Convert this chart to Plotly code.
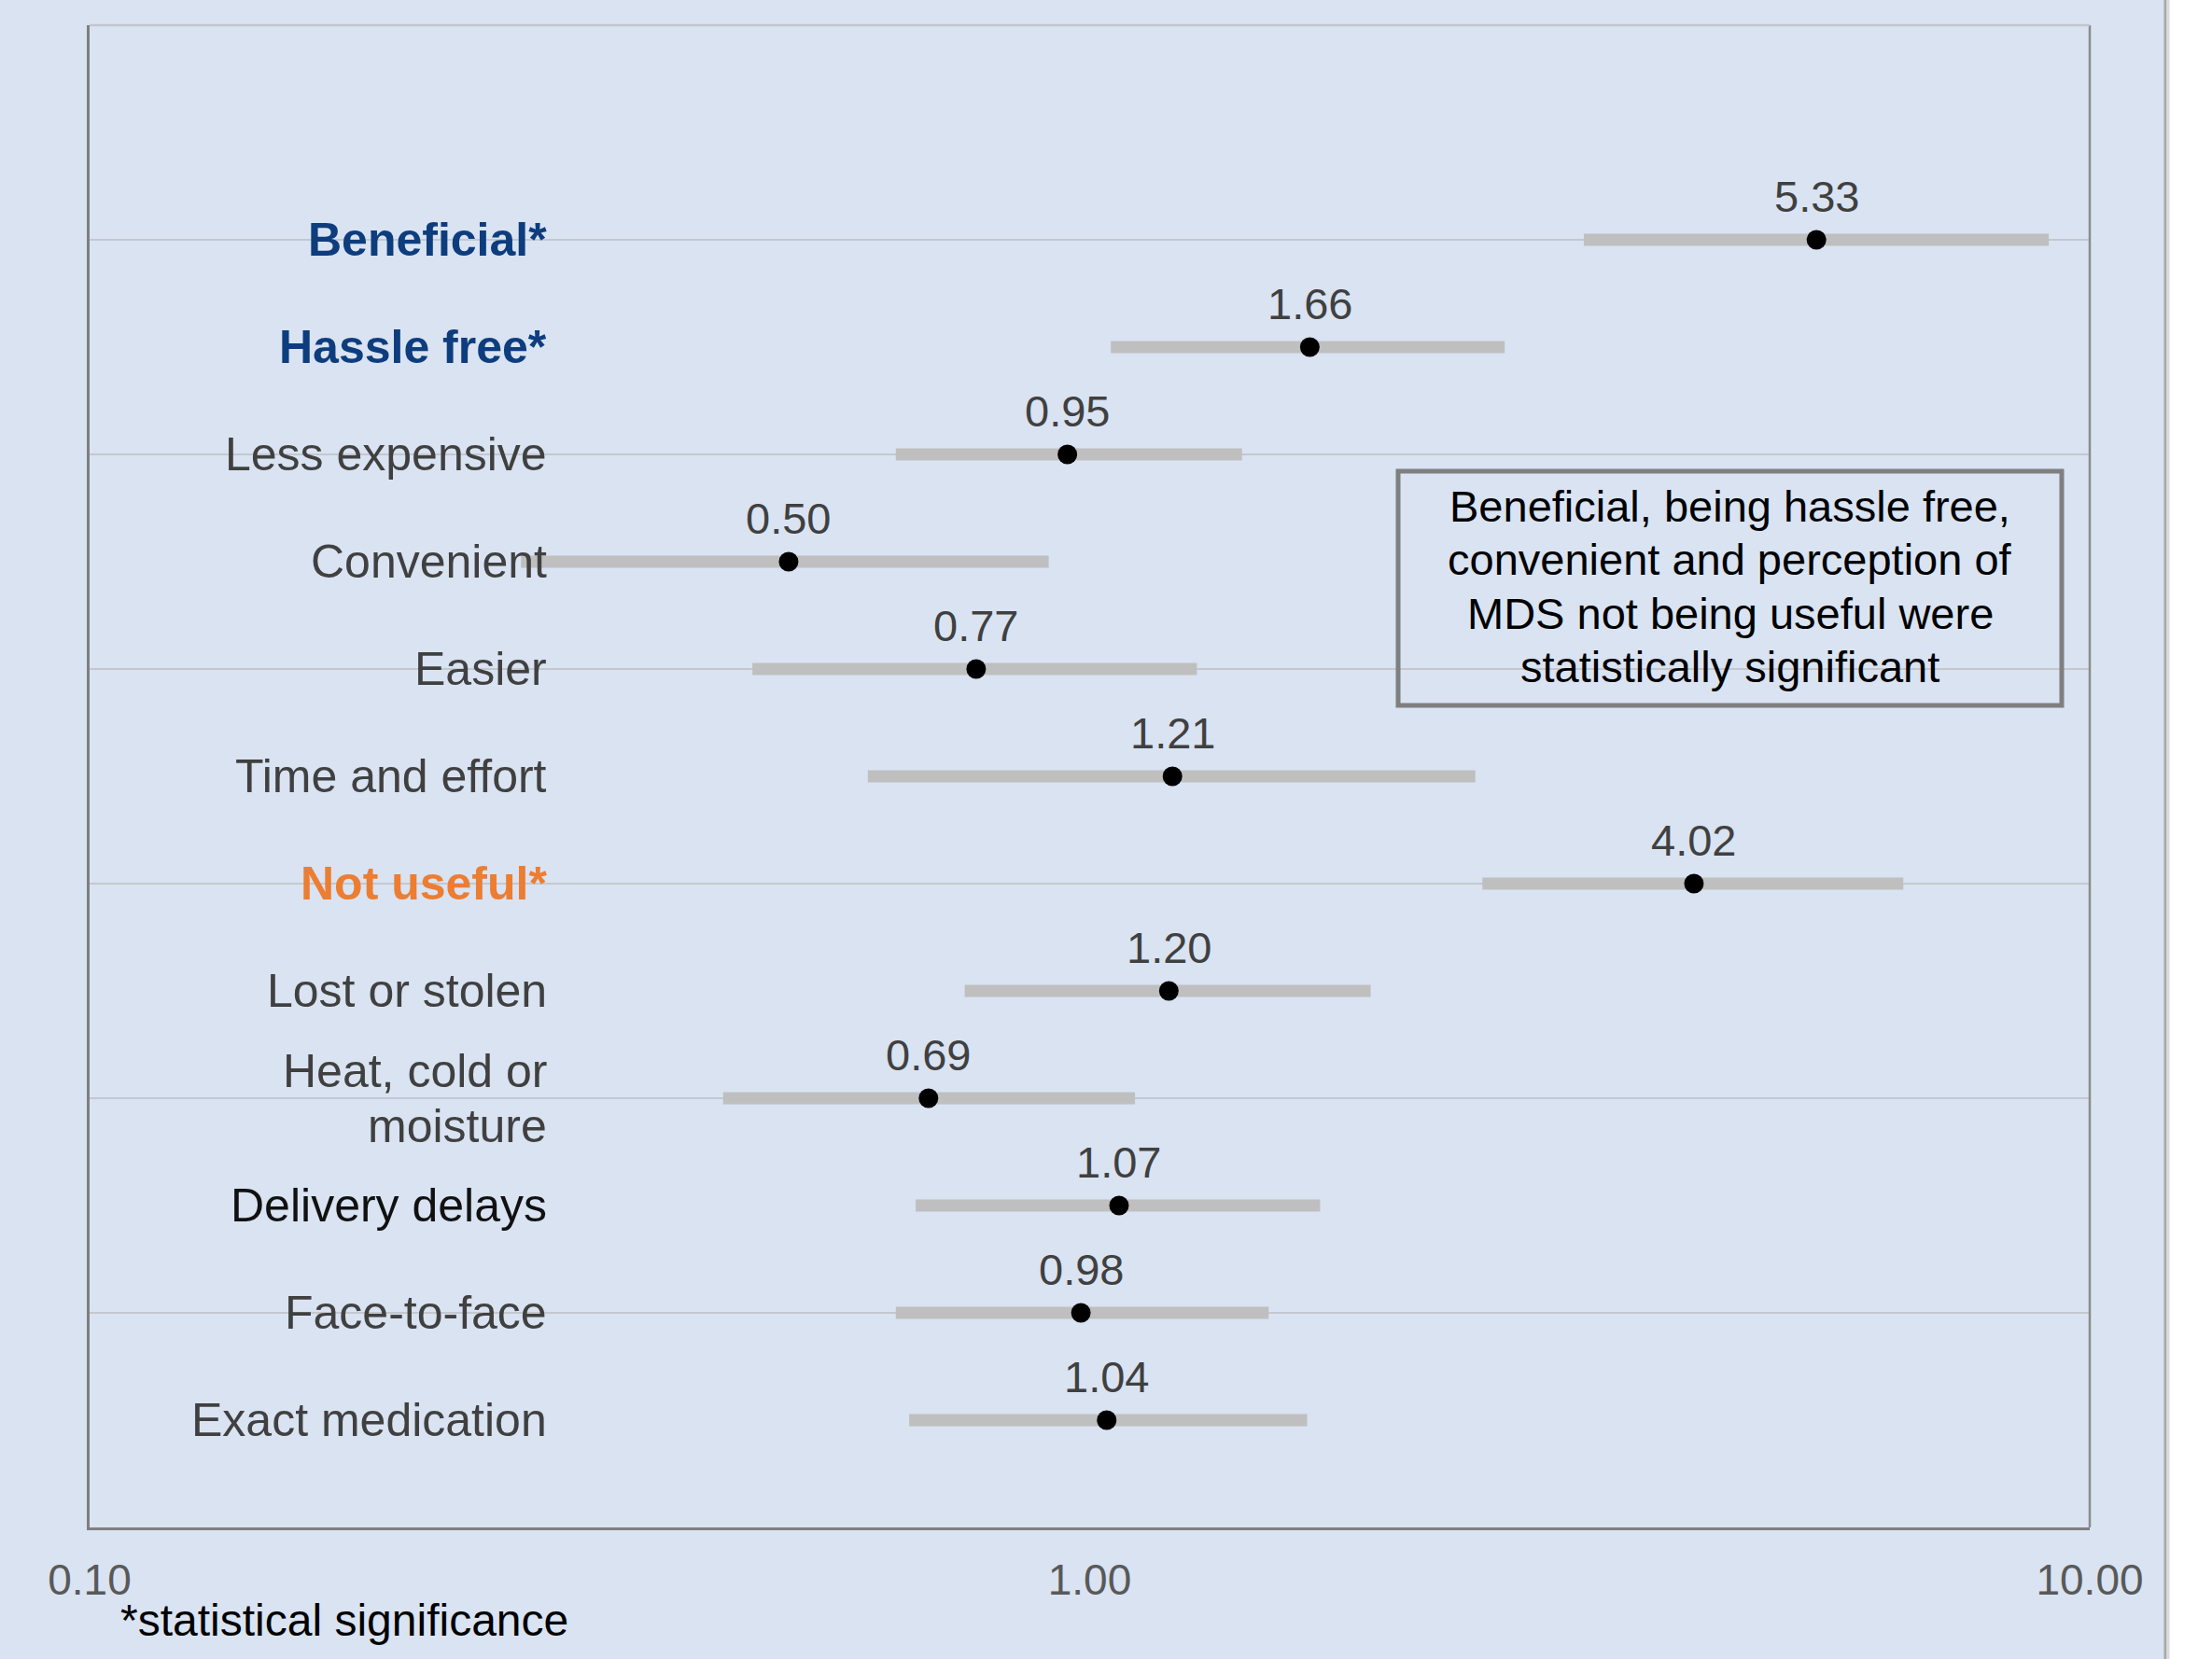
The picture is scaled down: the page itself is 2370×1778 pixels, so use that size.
import math
import plotly.graph_objects as go

# ---------------- data ----------------
categories = ["Beneficial*", "Hassle free*", "Less expensive", "Convenient", "Easier",
              "Time and effort", "Not useful*", "Lost or stolen", "Heat, cold or<br>moisture",
              "Delivery delays", "Face-to-face", "Exact medication"]
odds_ratio = [5.33, 1.66, 0.95, 0.50, 0.77, 1.21, 4.02, 1.20, 0.69, 1.07, 0.98, 1.04]
ci_lower = [3.12, 1.05, 0.64, 0.27, 0.46, 0.60, 2.47, 0.75, 0.43, 0.67, 0.64, 0.66]
ci_upper = [9.10, 2.60, 1.42, 0.91, 1.28, 2.43, 6.51, 1.91, 1.11, 1.70, 1.51, 1.65]
x_tick_values = [0.1, 1, 10]
x_tick_labels = ["0.10", "1.00", "10.00"]
note_lines = ["Beneficial, being hassle free,", "convenient and perception of",
              "MDS not being useful were", "statistically significant"]
footnote = "*statistical significance"

# ---------------- styles ----------------
FONT = "Liberation Sans, Arial, sans-serif"
BG = "#D9E3F2"
label_style = {
    "Beneficial*": ("#0E3D7E", True),
    "Hassle free*": ("#0E3D7E", True),
    "Not useful*": ("#ED7D31", True),
    "Delivery delays": ("#111111", False),
}
DEFAULT_LABEL = ("#404040", False)

W_PX, H_PX = 2370, 1778
L, R, T, B = 96, 2239, 27, 1637
PW, PH = R - L, B - T


def px_x(px):
    return (px - L) / PW


def px_y(py):
    return (B - py) / PH


n = len(categories)
rows = [n - i for i in range(n)]

# CI bars
ci_x, ci_y = [], []
for lo, hi, r in zip(ci_lower, ci_upper, rows):
    ci_x += [lo, hi, None]
    ci_y += [r, r, None]

fig = go.Figure()
fig.add_trace(go.Scatter(x=ci_x, y=ci_y, mode="lines",
                         line=dict(color="#BFBFBF", width=13), hoverinfo="skip",
                         showlegend=False))
fig.add_trace(go.Scatter(x=odds_ratio, y=rows, mode="markers",
                         marker=dict(color="black", size=21), showlegend=False))

annotations = []
# value labels (annotation x on a log axis is given in log10 units)
for v, r in zip(odds_ratio, rows):
    annotations.append(dict(x=math.log10(v), y=r, xref="x", yref="y", text=f"{v:.2f}",
                            showarrow=False, yanchor="middle", yshift=47,
                            font=dict(family=FONT, size=47, color="#404040")))
# category labels
LINE_H = 59
for cat, r in zip(categories, rows):
    color, bold = label_style.get(cat, DEFAULT_LABEL)
    parts = cat.split("<br>")
    k = len(parts)
    for j, part in enumerate(parts):
        shift = ((k - 1) / 2 - j) * LINE_H
        annotations.append(dict(x=px_x(588), y=r, xref="paper", yref="y",
                                text=f"<b>{part}</b>" if bold else part,
                                showarrow=False, xanchor="right", yanchor="middle",
                                yshift=shift,
                                font=dict(family=FONT, size=50, color=color)))
# note box text
box_l, box_r, box_t, box_b = 1498, 2209, 505, 756
cy = (box_t + box_b) / 2 - 2
NOTE_H = 57.5
for j, line in enumerate(note_lines):
    yy = cy + (j - (len(note_lines) - 1) / 2) * NOTE_H
    annotations.append(dict(x=px_x((box_l + box_r) / 2), y=px_y(yy), xref="paper", yref="paper",
                            text=line, showarrow=False, xanchor="center", yanchor="middle",
                            font=dict(family=FONT, size=47, color="black")))
# footnote
annotations.append(dict(x=px_x(127), y=px_y(1736), xref="paper", yref="paper",
                        text=footnote, showarrow=False, xanchor="left", yanchor="middle",
                        font=dict(family=FONT, size=48, color="black")))

shapes = [
    # vertical reference line at 1
    dict(type="line", xref="x", yref="paper", x0=0, x1=0, y0=0, y1=1,
         line=dict(color="#7F7F7F", width=2.5), layer="below"),
    # right border
    dict(type="line", xref="paper", yref="paper", x0=1, x1=1, y0=0, y1=1,
         line=dict(color="#8C8C8C", width=2.5)),
    # top border
    dict(type="line", xref="paper", yref="paper", x0=0, x1=1, y0=1, y1=1,
         line=dict(color="#C2C6CC", width=2.5)),
    # note box
    dict(type="rect", xref="paper", yref="paper", x0=px_x(box_l), x1=px_x(box_r),
         y0=px_y(box_b), y1=px_y(box_t), line=dict(color="#7F7F7F", width=5),
         fillcolor="rgba(0,0,0,0)"),
    # page edge (white area with shadow)
    dict(type="rect", xref="paper", yref="paper", x0=px_x(2319), x1=px_x(2400),
         y0=px_y(1800), y1=px_y(-20), line=dict(width=0), fillcolor="white"),
    dict(type="line", xref="paper", yref="paper", x0=px_x(2320), x1=px_x(2320),
         y0=px_y(1800), y1=px_y(-20), line=dict(color="#A8A8A8", width=3)),
    dict(type="line", xref="paper", yref="paper", x0=px_x(2323), x1=px_x(2323),
         y0=px_y(1800), y1=px_y(-20), line=dict(color="#DADADA", width=3)),
]

fig.update_layout(
    width=W_PX, height=H_PX,
    margin=dict(l=L, r=W_PX - R, t=T, b=H_PX - B, pad=0),
    paper_bgcolor=BG, plot_bgcolor=BG,
    font=dict(family=FONT),
    showlegend=False,
    annotations=annotations,
    shapes=shapes,
    xaxis=dict(type="log", range=[-1, 1], tickvals=x_tick_values, ticktext=x_tick_labels,
               showgrid=False, zeroline=False, showline=True, linecolor="#7F7F7F",
               linewidth=2.5, ticks="", tickfont=dict(family=FONT, size=46, color="#595959"),
               ticklabelstandoff=14),
    yaxis=dict(range=[0, n + 2], tickvals=list(range(0, n + 3, 2)), showticklabels=False,
               showgrid=True, gridcolor="#C4C8CE", gridwidth=2, zeroline=False,
               showline=True, linecolor="#7F7F7F", linewidth=2.5, ticks=""),
)

fig.write_html("out.html", config={"displayModeBar": False},
               post_script="document.body.style.margin='0px';document.body.style.overflow='hidden';")
